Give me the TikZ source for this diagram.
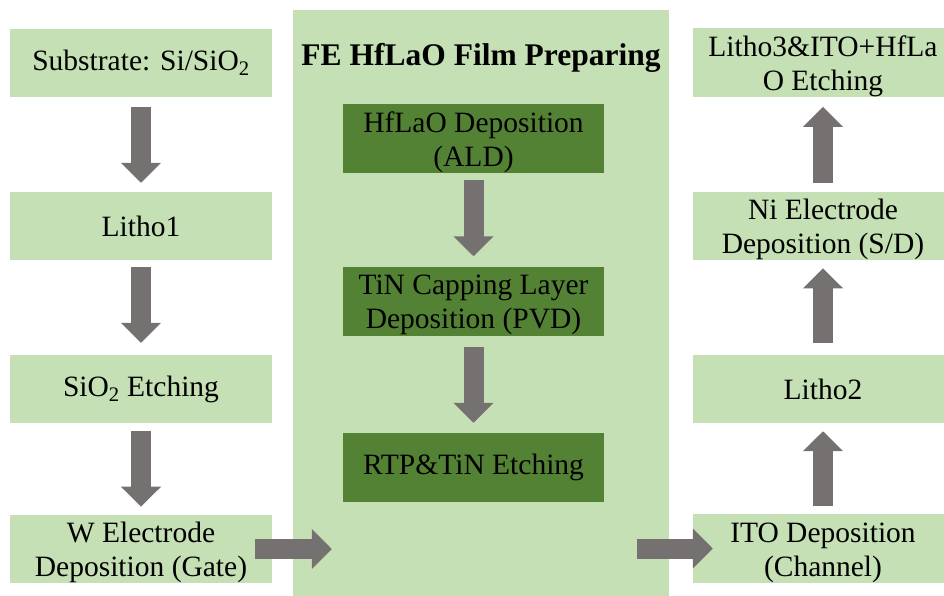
\documentclass[tikz,border=0pt]{standalone}
\usepackage{fontspec}
\setmainfont{Liberation Serif}
\usetikzlibrary{arrows.meta}
\definecolor{lightgreen}{HTML}{C5E0B4}
\definecolor{darkgreen}{HTML}{548235}
\definecolor{arrowgray}{HTML}{767171}
\newcommand\topstrut{\rule{0pt}{28pt}}
\tikzset{
  light/.style={fill=lightgreen, draw=none, inner sep=0pt, align=center,
    font=\fontsize{29.5}{34}\selectfont, minimum height=68pt},
  dark/.style={fill=darkgreen, draw=none, inner sep=0pt, align=center,
    font=\fontsize{29.5}{34}\selectfont, minimum width=261pt, minimum height=69pt},
  blockarrow/.style={draw=arrowgray, line width=20pt,
    -{Triangle[length=20pt,width=39pt]}, arrowgray},
}
\begin{document}
\begin{tikzpicture}[x=1pt,y=-1pt]
\useasboundingbox (0,0) rectangle (944,595);
\clip (0,0) rectangle (944,595);
% middle panel
\node[fill=lightgreen, draw=none, minimum width=376pt, minimum height=600pt, inner sep=0pt] (panel) at (481,310) {};
\node[font=\fontsize{31.5}{36}\bfseries\selectfont, anchor=base] (title) at (481,65) {FE HfLaO Film Preparing};
% left column
\node[light, minimum width=262pt] (b1) at (141,62.5) {Substrate: Si/SiO\textsubscript{2}};
\node[light, minimum width=262pt] (b2) at (141,226) {Litho1};
\node[light, minimum width=262pt] (b3) at (141,389) {SiO\textsubscript{2} Etching};
\node[light, minimum width=262pt] (b4) at (141,549) {\topstrut W Electrode\\Deposition (Gate)};
% middle boxes
\node[dark] (m1) at (473.5,138.5) {\topstrut HfLaO Deposition\\(ALD)};
\node[dark] (m2) at (473.5,301) {\topstrut TiN Capping Layer\\Deposition (PVD)};
\node[dark] (m3) at (473.5,467.5) {RTP\&TiN Etching};
% right column
\node[light, minimum width=260pt] (r4) at (823,548.5) {\topstrut ITO Deposition\\(Channel)};
\node[light, minimum width=260pt] (r3) at (823,389) {Litho2};
\node[light, minimum width=260pt] (r2) at (823,226) {\topstrut Ni Electrode\\Deposition (S/D)};
\node[light, minimum width=260pt] (r1) at (823,62.5) {\topstrut Litho3\&ITO+HfLa\\O Etching};
% arrows left
\draw[blockarrow, shorten <=10pt, shorten >=9pt] (b1.south) -- (b2.north);
\draw[blockarrow, shorten <=7pt, shorten >=12pt] (b2.south) -- (b3.north);
\draw[blockarrow, shorten <=8pt, shorten >=8pt] (b3.south) -- (b4.north);
% arrows middle
\draw[blockarrow, shorten <=7pt, shorten >=10pt] (m1.south) -- (m2.north);
\draw[blockarrow, shorten <=11pt, shorten >=10pt] (m2.south) -- (m3.north);
% arrows right
\draw[blockarrow, shorten <=8pt, shorten >=8pt] (r4.north) -- (r3.south);
\draw[blockarrow, shorten <=12pt, shorten >=8pt] (r3.north) -- (r2.south);
\draw[blockarrow, shorten <=9pt, shorten >=10pt] (r2.north) -- (r1.south);
% horizontal arrows
\draw[blockarrow, shorten <=-17pt, shorten >=-39pt] (b4.east) -- (b4.east -| panel.west);
\draw[blockarrow, shorten <=-32pt, shorten >=-20pt] (r4.west -| panel.east) -- (r4.west);
\end{tikzpicture}
\end{document}
